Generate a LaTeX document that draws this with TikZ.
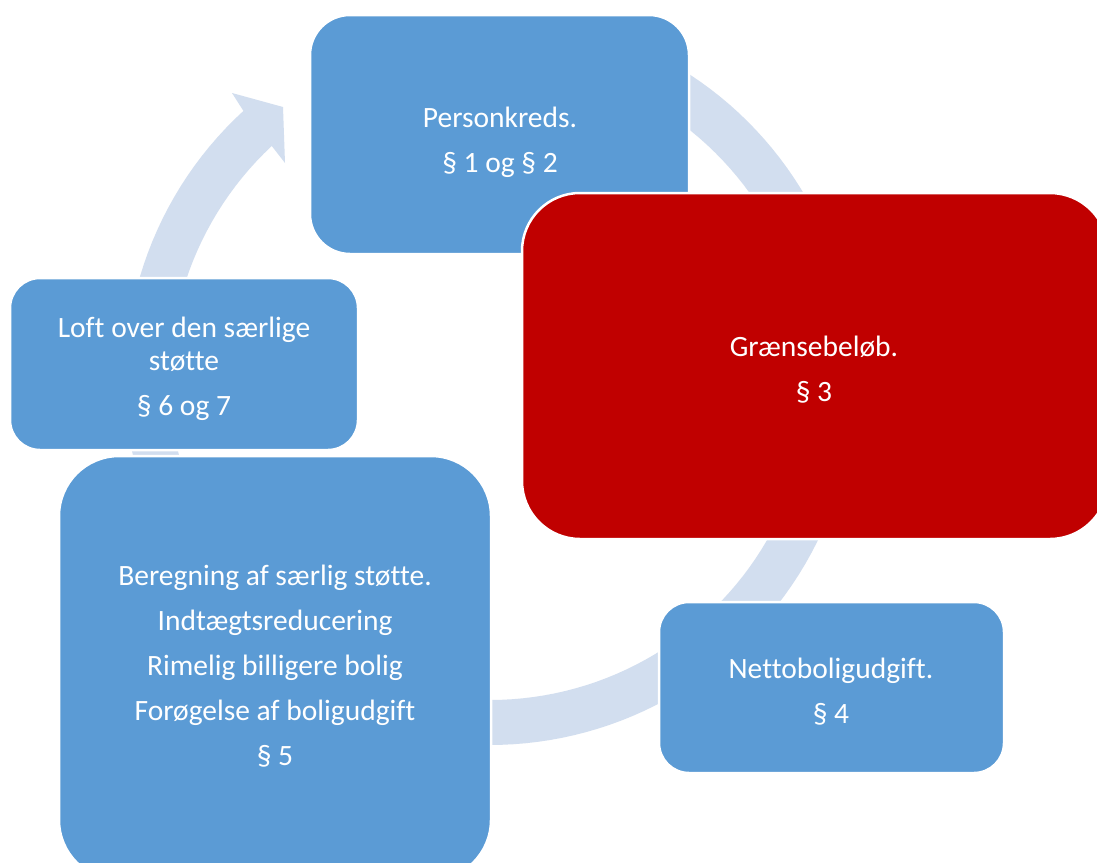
\documentclass[tikz,border=0pt]{standalone}
\usepackage{fontspec}
\setmainfont{Carlito}[Ligatures={NoCommon}]
\definecolor{boxblue}{HTML}{5B9BD5}
\definecolor{boxred}{HTML}{C00000}
\definecolor{ringc}{HTML}{D2DEEF}
\tikzset{
  box/.style={draw=white, line width=2.5pt, inner sep=0pt, outer sep=0pt},
  bluebox/.style={box, fill=boxblue},
  redbox/.style={box, fill=boxred},
  txt/.style={text=white, align=center, anchor=base, inner sep=0pt, outer sep=0pt,
    font=\fontsize{29.5pt}{45pt}\selectfont}
}
\begin{document}
\begin{tikzpicture}[x=1pt,y=-1pt]
\useasboundingbox (0,0) rectangle (1097,862);
\fill[white] (0,0) rectangle (1097,862);
\clip (0,0) rectangle (1097,862);
% cycle ring with arrow head
\fill[ringc] plot[domain=280:587.5, samples=160] ({490+365*cos(\x)},{380+365*sin(\x)})
  -- (232,93) -- (283,107) -- (285,163)
  -- plot[domain=587:280, samples=160] ({490+320*cos(\x)},{380+320*sin(\x)}) -- cycle;
% boxes
\node[bluebox, minimum width=379pt, minimum height=239pt, rounded corners=40pt] (top) at (499.5,134.5) {};
\node[bluebox, minimum width=348pt, minimum height=172pt, rounded corners=30pt] (left) at (184,364) {};
\node[bluebox, minimum width=432pt, minimum height=424pt, rounded corners=60pt] (big) at (275,668) {};
\node[bluebox, minimum width=345pt, minimum height=171pt, rounded corners=30pt] (netto) at (831.5,687.5) {};
\node[redbox, minimum width=586pt, minimum height=346pt, rounded corners=58pt] (red) at (815,366) {};
% texts (anchored at the baseline of the last line)
\node[txt] (t1) at (500,172) {Personkreds.\\§ 1 og § 2};
\node[txt] (t2) at (814,401.7) {Grænsebeløb.\\§ 3};
\node[txt] (t3) at (831,723) {Nettoboligudgift.\\§ 4};
\node[txt] (t4) at (275,765.7) {Beregning af særlig støtte.\\Indtægtsreducering\\Rimelig billigere bolig\\Forøgelse af boligudgift\\§ 5};
\node[txt] (t5) at (184,415) {Loft over den særlige\\[-12.3pt]støtte\\§ 6 og 7};
\end{tikzpicture}
\end{document}
